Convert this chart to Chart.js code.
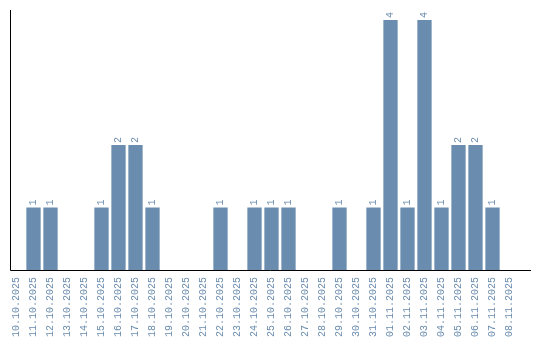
<!DOCTYPE html>
<html>
<head>
<meta charset="utf-8">
<script src="https://cdn.jsdelivr.net/npm/chart.js@4/dist/chart.umd.min.js"></script>
<style>
  html, body { margin: 0; padding: 0; background: #ffffff; }
  #wrap { width: 540px; height: 340px; position: relative; }
</style>
</head>
<body>
<div id="wrap"><canvas id="dayChart"></canvas></div>
<script>
const days = [
  '10.10.2025', '11.10.2025', '12.10.2025', '13.10.2025', '14.10.2025',
  '15.10.2025', '16.10.2025', '17.10.2025', '18.10.2025', '19.10.2025',
  '20.10.2025', '21.10.2025', '22.10.2025', '23.10.2025', '24.10.2025',
  '25.10.2025', '26.10.2025', '27.10.2025', '28.10.2025', '29.10.2025',
  '30.10.2025', '31.10.2025', '01.11.2025', '02.11.2025', '03.11.2025',
  '04.11.2025', '05.11.2025', '06.11.2025', '07.11.2025', '08.11.2025'
];
const counts = [0, 1, 1, 0, 0, 1, 2, 2, 1, 0, 0, 0, 1, 0, 1, 1, 1, 0, 0, 1, 0, 1, 4, 1, 4, 1, 2, 2, 1, 0];

const barColor = '#6a8cae';
const labelFont = '10px "Liberation Mono", monospace';

//Draws the black axis lines and the rotated value labels on top of the bars
const barExtras = {
  id: 'barExtras',
  afterDatasetsDraw(chart) {
    const ctx = chart.ctx;
    const area = chart.chartArea;
    ctx.save();
    ctx.strokeStyle = '#000000';
    ctx.lineWidth = 1;
    ctx.beginPath();
    ctx.moveTo(area.left + 2.5, area.top);
    ctx.lineTo(area.left + 2.5, area.bottom + 0.5);
    ctx.lineTo(area.right + 13, area.bottom + 0.5);
    ctx.stroke();

    const meta = chart.getDatasetMeta(0);
    ctx.fillStyle = barColor;
    ctx.font = labelFont;
    ctx.textAlign = 'left';
    ctx.textBaseline = 'middle';
    meta.data.forEach((bar, i) => {
      const v = counts[i];
      if (!v) return;
      ctx.save();
      ctx.translate(bar.x, bar.y - 2);
      ctx.rotate(-Math.PI / 2);
      ctx.fillText(String(v), 0, 0);
      ctx.restore();
    });
    ctx.restore();
  }
};

document.addEventListener('DOMContentLoaded', function () {
  const ctx = document.getElementById('dayChart');
  new Chart(ctx, {
    type: 'bar',
    data: {
      labels: days,
      datasets: [{
        data: counts,
        backgroundColor: barColor,
        borderWidth: 0,
        barPercentage: 0.84,
        categoryPercentage: 1
      }]
    },
    options: {
      responsive: true,
      maintainAspectRatio: false,
      animation: false,
      layout: {
        padding: { left: 8, right: 22, top: 10, bottom: 0 }
      },
      plugins: {
        legend: { display: false },
        tooltip: { enabled: false }
      },
      scales: {
        x: {
          offset: true,
          grid: { display: false, drawTicks: false },
          border: { display: false },
          afterFit: function (scale) {
            scale.height = 70;  //fixed room under the bars for the date labels
          },
          ticks: {
            autoSkip: false,
            minRotation: 90,
            maxRotation: 90,
            padding: 7,
            color: barColor,
            font: { family: '"Liberation Mono", monospace', size: 10 }
          }
        },
        y: {
          display: false,
          min: 0,
          max: 4.16
        }
      }
    },
    plugins: [barExtras]
  });
});
</script>
</body>
</html>
